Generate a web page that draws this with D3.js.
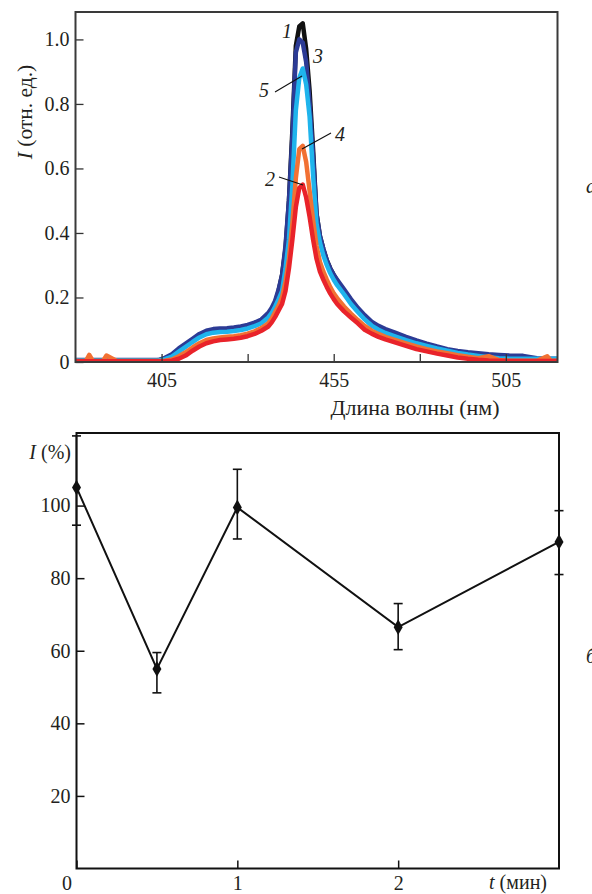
<!DOCTYPE html>
<html><head><meta charset="utf-8">
<script src="https://cdn.jsdelivr.net/npm/d3@7"></script>
<style>
html,body{margin:0;padding:0;background:#fff;}
svg{display:block;font-family:"Liberation Serif","DejaVu Serif",serif;}
</style></head>
<body>
<svg id="c" width="592" height="894"></svg>
<script>
// ---------- Panel a: spectra ----------
const wavelengths = [380,383,384,385,388,389,392,396,400,404,
 406,408,410,412,414,416,418,420,422,424,426,428,430,432,434,436,
 437,438,439,440,441,442,443,444,445,446,447,448,449,450,451,452,453,454,455,456,
 458,460,462,464,466,468,470,
 473,476,479,482,485,488,491,494,497,500,503,506,
 510,514,517,518,520];

const curve1 = [0.004,0.004,0.004,0.004,0.004,0.004,0.004,0.004,0.004,0.004,
 0.01,0.02,0.036,0.05,0.065,0.08,0.09,0.095,0.097,0.098,0.1,0.103,0.107,0.115,0.125,0.145,
 0.16,0.185,0.22,0.27,0.35,0.5,0.72,0.98,1.04,1.05,0.97,0.84,0.66,0.46,0.39,0.35,0.315,0.29,0.27,0.252,
 0.215,0.185,0.16,0.135,0.115,0.103,0.093,
 0.082,0.07,0.058,0.048,0.04,0.032,0.024,0.016,0.009,0.004,0.004,0.004,
 0.004,0.004,0.004,0.004,0.004];
const curve3 = [0.006,0.006,0.006,0.006,0.006,0.006,0.006,0.006,0.006,0.006,
 0.013,0.024,0.042,0.057,0.072,0.087,0.097,0.102,0.104,0.105,0.107,0.11,0.115,0.122,0.132,0.152,
 0.168,0.19,0.225,0.27,0.36,0.5,0.7,0.96,1.0,0.99,0.93,0.8,0.64,0.46,0.39,0.35,0.315,0.29,0.27,0.255,
 0.225,0.195,0.168,0.145,0.125,0.112,0.102,
 0.09,0.078,0.067,0.057,0.048,0.04,0.034,0.03,0.027,0.024,0.022,0.02,
 0.019,0.012,0.01,0.01,0.01];
const curve5 = [0.005,0.005,0.005,0.005,0.005,0.005,0.005,0.005,0.005,0.005,
 0.009,0.017,0.032,0.047,0.062,0.076,0.086,0.091,0.093,0.094,0.096,0.099,0.104,0.111,0.12,0.138,
 0.152,0.172,0.195,0.22,0.29,0.38,0.55,0.78,0.88,0.91,0.86,0.76,0.58,0.43,0.37,0.33,0.3,0.275,0.255,0.238,
 0.21,0.18,0.155,0.132,0.113,0.1,0.09,
 0.079,0.068,0.058,0.05,0.042,0.035,0.028,0.023,0.019,0.015,0.012,0.01,
 0.01,0.01,0.01,0.01,0.01];
const curve4 = [0.003,0.003,0.022,0.004,0.003,0.02,0.003,0.003,0.003,0.003,
 0.004,0.008,0.018,0.03,0.045,0.058,0.068,0.073,0.076,0.078,0.08,0.083,0.088,0.095,0.105,0.12,
 0.135,0.155,0.175,0.2,0.25,0.32,0.43,0.57,0.66,0.67,0.62,0.53,0.44,0.36,0.31,0.28,0.255,0.232,0.213,0.198,
 0.172,0.15,0.13,0.112,0.097,0.087,0.078,
 0.068,0.058,0.048,0.04,0.033,0.027,0.021,0.016,0.012,0.018,0.006,0.004,
 0.004,0.004,0.018,0.004,0.004];
const curve2 = [0.002,0.002,0.002,0.002,0.002,0.002,0.002,0.002,0.002,0.002,
 0.002,0.004,0.01,0.02,0.035,0.048,0.058,0.064,0.068,0.07,0.072,0.075,0.08,0.087,0.097,0.11,
 0.123,0.14,0.16,0.18,0.22,0.29,0.38,0.48,0.54,0.55,0.51,0.45,0.38,0.32,0.28,0.255,0.232,0.212,0.195,0.18,
 0.157,0.138,0.12,0.1,0.088,0.078,0.07,
 0.06,0.05,0.04,0.033,0.026,0.02,0.014,0.01,0.007,0.005,0.004,0.003,
 0.003,0.003,0.003,0.003,0.003];

const seriesNames = ["1","3","5","4","2"];
const seriesValues = [curve1, curve3, curve5, curve4, curve2];
const seriesColors = ["#111111","#2c3b95","#1fb4ec","#f27133","#e9232a"];

const xTicksA = [405,430,455,480,505];
const xLabelsA = [405,455,505];
const yTicksA = [0,0.2,0.4,0.6,0.8,1.0];

// ---------- Panel b: intensity vs time ----------
const times = [0, 0.5, 1, 2, 3];
const intensity = [105, 55, 99.5, 66.5, 90];
const errLow = [94.6, 48.4, 90.8, 60.3, 81];
const errHigh = [119.2, 59.5, 110, 73, 98.6];
const xTicksB = [0,1,2];
const yTicksB = [20,40,60,80,100];

const svg = d3.select("#c");
const FONT = 20;
const FAM = "Liberation Serif";
const ink = "#231f20";

// ===== Panel a =====
const ax = {l:75.5, r:557.5, t:12, b:362};
const xa = d3.scaleLinear().domain([380,520]).range([ax.l, ax.r]);
const ya = d3.scaleLinear().domain([0,1.085]).range([ax.b, ax.t]);

svg.append("clipPath").attr("id","clipA").append("rect")
  .attr("x",ax.l).attr("y",ax.t).attr("width",ax.r-ax.l).attr("height",ax.b-ax.t);

const line = d3.line().x(d=>xa(d[0])).y(d=>ya(d[1])).curve(d3.curveLinear);
const gCurves = svg.append("g").attr("clip-path","url(#clipA)");
seriesValues.forEach((vals,i)=>{
  gCurves.append("path")
    .datum(wavelengths.map((w,j)=>[w, vals[j]]))
    .attr("d", line)
    .attr("fill","none")
    .attr("stroke", seriesColors[i])
    .attr("stroke-width", 4.5)
    .attr("stroke-linejoin","round")
    .attr("stroke-linecap","butt");
});

// axes
const gxA = svg.append("g").attr("transform",`translate(0,${ax.b})`)
  .call(d3.axisBottom(xa).tickValues(xTicksA).tickSize(-8).tickPadding(11)
    .tickFormat(d=> xLabelsA.includes(d) ? d : ""));
const gyA = svg.append("g").attr("transform",`translate(${ax.l},0)`)
  .call(d3.axisLeft(ya).tickValues(yTicksA).tickSize(-8).tickPadding(6)
    .tickFormat(d=> d===0 ? "0" : d3.format(".1f")(d)));
[gxA,gyA].forEach(g=>{
  g.attr("font-family",FAM);
  g.select(".domain").remove();
  g.selectAll(".tick line").attr("stroke","#333").attr("stroke-width",1.3);
  g.selectAll(".tick text").attr("font-size",FONT).attr("fill",ink);
});

svg.append("rect").attr("x",ax.l).attr("y",ax.t).attr("width",ax.r-ax.l).attr("height",ax.b-ax.t)
  .attr("fill","none").attr("stroke","#3a3a3a").attr("stroke-width",2);

// axis titles
svg.append("text").attr("x",415).attr("y",415).attr("text-anchor","middle")
  .attr("font-family",FAM).attr("font-size",22).attr("fill",ink).text("Длина волны (нм)");
const yt = svg.append("text").attr("transform","translate(32,112) rotate(-90)")
  .attr("text-anchor","middle").attr("font-family",FAM).attr("font-size",21.5).attr("fill",ink);
yt.append("tspan").attr("font-style","italic").text("I");
yt.append("tspan").text(" (отн. ед.)");

// curve labels and leaders
const labA = svg.append("g").attr("font-family",FAM).attr("font-size",20).attr("font-style","italic").attr("fill",ink);
labA.append("text").attr("x",287).attr("y",38).attr("text-anchor","middle").text("1");
labA.append("text").attr("x",318).attr("y",63).attr("text-anchor","middle").text("3");
labA.append("text").attr("x",264).attr("y",97).attr("text-anchor","middle").text("5");
labA.append("text").attr("x",340).attr("y",141).attr("text-anchor","middle").text("4");
labA.append("text").attr("x",270).attr("y",186).attr("text-anchor","middle").text("2");
const leaders = [[275,92,302,76],[331,133,302,149],[279,177,303,185]];
leaders.forEach(l=>svg.append("line").attr("x1",l[0]).attr("y1",l[1]).attr("x2",l[2]).attr("y2",l[3])
  .attr("stroke","#111").attr("stroke-width",1.1));

// panel letter
svg.append("text").attr("x",586).attr("y",193).attr("font-family",FAM).attr("font-size",FONT)
  .attr("font-style","italic").attr("fill",ink).text("а");

// ===== Panel b =====
const bx = {l:76.5, r:559, t:433, b:868.5};
const xb = d3.scaleLinear().domain([0,3]).range([bx.l, bx.r]);
const yb = d3.scaleLinear().domain([0,120]).range([bx.b, bx.t]);

const gxB = svg.append("g").attr("transform",`translate(0,${bx.b})`)
  .call(d3.axisBottom(xb).tickValues(xTicksB).tickSize(-8).tickPadding(7).tickFormat(d3.format("d")));
const gyB = svg.append("g").attr("transform",`translate(${bx.l},0)`)
  .call(d3.axisLeft(yb).tickValues(yTicksB).tickSize(-8).tickPadding(6));
[gxB,gyB].forEach(g=>{
  g.attr("font-family",FAM);
  g.select(".domain").remove();
  g.selectAll(".tick line").attr("stroke","#111").attr("stroke-width",1.5);
  g.selectAll(".tick text").attr("font-size",FONT).attr("fill",ink);
});
gxB.selectAll(".tick").filter(d=>d===0).select("text").attr("x",-10);

svg.append("rect").attr("x",bx.l).attr("y",bx.t).attr("width",bx.r-bx.l).attr("height",bx.b-bx.t)
  .attr("fill","none").attr("stroke","#111").attr("stroke-width",2);

// error bars
const gErr = svg.append("g").attr("stroke","#111").attr("stroke-width",1.6);
times.forEach((t,i)=>{
  const x = xb(t);
  gErr.append("line").attr("x1",x).attr("x2",x).attr("y1",yb(errLow[i])).attr("y2",yb(errHigh[i]));
  [errLow[i],errHigh[i]].forEach(v=>gErr.append("line")
    .attr("x1",x-4.5).attr("x2",x+4.5).attr("y1",yb(v)).attr("y2",yb(v)));
});

// data line
svg.append("path").datum(times.map((t,i)=>[t,intensity[i]]))
  .attr("d", d3.line().x(d=>xb(d[0])).y(d=>yb(d[1])))
  .attr("fill","none").attr("stroke","#111").attr("stroke-width",2);

// markers
svg.append("g").selectAll("path").data(times.map((t,i)=>[t,intensity[i]])).join("path")
  .attr("transform",d=>`translate(${xb(d[0])},${yb(d[1])})`)
  .attr("d", d3.symbol(d3.symbolDiamond, 70))
  .attr("fill","#111");

// titles
const ytb = svg.append("text").attr("x",71).attr("y",459).attr("text-anchor","end")
  .attr("font-family",FAM).attr("font-size",FONT).attr("fill",ink);
ytb.append("tspan").attr("font-style","italic").text("I");
ytb.append("tspan").text(" (%)");
const xtb = svg.append("text").attr("x",547).attr("y",889).attr("text-anchor","end")
  .attr("font-family",FAM).attr("font-size",FONT).attr("fill",ink);
xtb.append("tspan").attr("font-style","italic").text("t");
xtb.append("tspan").text(" (мин)");

svg.append("text").attr("x",586).attr("y",663).attr("font-family",FAM).attr("font-size",FONT)
  .attr("font-style","italic").attr("fill",ink).text("б");
</script>
</body></html>
